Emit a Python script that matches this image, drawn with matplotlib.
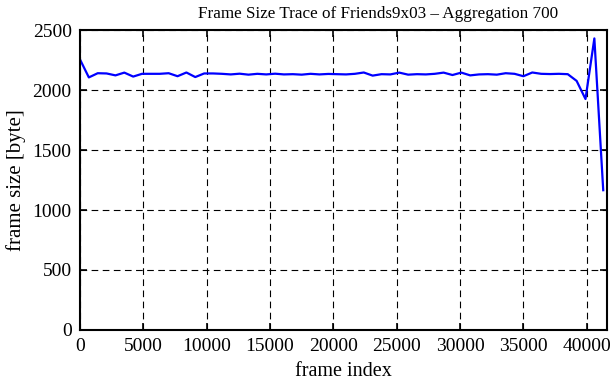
import matplotlib
matplotlib.use("Agg")
import matplotlib.pyplot as plt
import numpy as np

# Aggregated frame sizes (one value per 700 frames)
step = 700
frame_size = [
    2255, 2105, 2140, 2138, 2122, 2145, 2112, 2135, 2135, 2135,
    2140, 2115, 2146, 2108, 2138, 2138, 2135, 2130, 2136, 2128,
    2135, 2130, 2136, 2130, 2132, 2128, 2135, 2130, 2134, 2132,
    2130, 2135, 2146, 2120, 2132, 2130, 2145, 2128, 2132, 2130,
    2135, 2145, 2125, 2145, 2122, 2130, 2132, 2128, 2140, 2135,
    2115, 2146, 2135, 2133, 2135, 2132, 2076, 1925, 2430, 1165,
]
frame_index = np.arange(len(frame_size)) * step

x_ticks = [0, 5000, 10000, 15000, 20000, 25000, 30000, 35000, 40000]
y_ticks = [0, 500, 1000, 1500, 2000, 2500]

plt.rcParams['font.family'] = ['Liberation Serif', 'DejaVu Serif']

fig = plt.figure(figsize=(6.11, 3.80), dpi=100)
ax = fig.add_axes([0.1309, 0.1316, 0.9935 - 0.1309, 0.921 - 0.1316])

ax.plot(frame_index, frame_size, color='#0000ff', lw=1.6)

ax.set_xlim(0, 41600)
ax.set_ylim(0, 2500)
ax.set_xticks(x_ticks)
ax.set_yticks(y_ticks)
ax.grid(True, color='black', linestyle=(0, (6, 4)), lw=0.8)

for s in ax.spines.values():
    s.set_linewidth(1.5)
ax.tick_params(direction='in', length=5, width=1.2, top=True, right=True,
               labelsize=14)
ax.tick_params(axis='y', pad=6)
ax.tick_params(axis='x', pad=6)

# title sits a bit right of the axes centre in the original
ax.set_title("Frame Size Trace of Friends9x03 \u2013 Aggregation 700",
             fontsize=12.3, pad=9, x=0.565)
ax.set_xlabel("frame index", fontsize=14.5, labelpad=5)
ax.set_ylabel("frame size [byte]", fontsize=15, labelpad=5)

fig.savefig("out.png", dpi=100)
